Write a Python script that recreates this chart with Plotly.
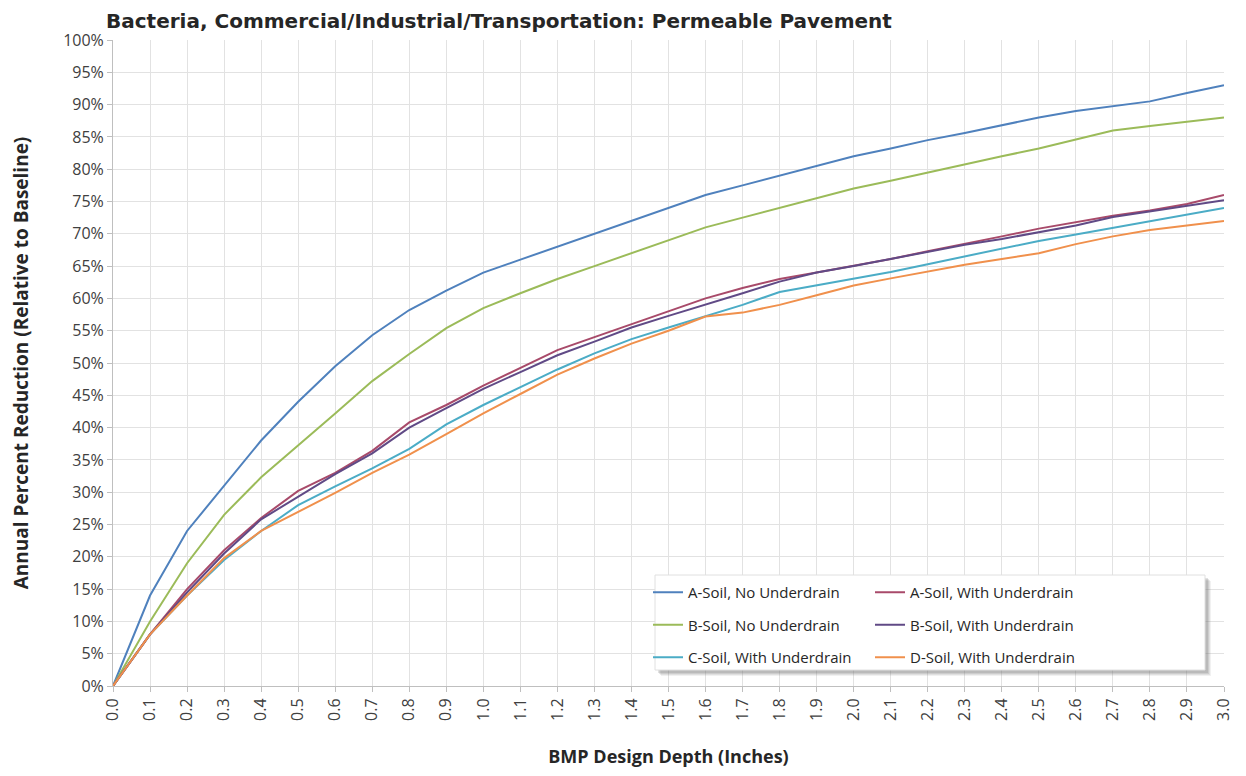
import plotly.graph_objects as go

# ---- data ----
DEPTH = [0.0, 0.1, 0.2, 0.3, 0.4, 0.5, 0.6, 0.7, 0.8, 0.9, 1.0,
         1.1, 1.2, 1.3, 1.4, 1.5, 1.6, 1.7, 1.8, 1.9, 2.0,
         2.1, 2.2, 2.3, 2.4, 2.5, 2.6, 2.7, 2.8, 2.9, 3.0]

A_NO = [0, 14, 24, 31, 38, 44, 49.5, 54.3, 58.2, 61.2, 64,
        66, 68, 70, 72, 74, 76, 77.5, 79, 80.5, 82,
        83.2, 84.5, 85.6, 86.8, 88, 89, 89.7, 90.5, 91.8, 93]
B_NO = [0, 10, 19, 26.5, 32.3, 37.2, 42.2, 47.2, 51.4, 55.4, 58.5,
        60.8, 63, 65, 67, 69, 71, 72.5, 74, 75.5, 77,
        78.2, 79.5, 80.7, 82, 83.2, 84.6, 86, 86.7, 87.3, 88]
A_WITH = [0, 8, 15, 21, 26, 30.2, 33, 36.4, 40.8, 43.5, 46.5,
          49.3, 52, 54, 56, 58, 60, 61.6, 63, 64, 65,
          66.1, 67.3, 68.4, 69.6, 70.8, 71.8, 72.8, 73.6, 74.6, 76]
B_WITH = [0, 8, 14.5, 20.5, 25.8, 29.3, 32.8, 36, 40, 43, 46,
          48.6, 51.2, 53.3, 55.5, 57.3, 59, 60.8, 62.6, 64, 65,
          66.1, 67.3, 68.3, 69.2, 70.2, 71.3, 72.6, 73.5, 74.3, 75.2]
C_WITH = [0, 8, 14, 19.5, 24, 28, 30.9, 33.7, 36.7, 40.5, 43.5,
          46.3, 49, 51.5, 53.7, 55.5, 57.3, 59, 61, 62, 63,
          64.1, 65.3, 66.5, 67.8, 68.9, 69.9, 70.9, 72, 73, 74]
D_WITH = [0, 8, 14, 19.8, 24, 26.9, 29.9, 33, 35.8, 39, 42.2,
          45.2, 48.2, 50.7, 53, 55, 57.2, 57.8, 59, 60.5, 62,
          63.1, 64.2, 65.2, 66.1, 67, 68.4, 69.6, 70.6, 71.3, 72]

SERIES = [
    ("A-Soil, No Underdrain", A_NO, "#4F81BD", "legend"),
    ("B-Soil, No Underdrain", B_NO, "#9BBB59", "legend"),
    ("C-Soil, With Underdrain", C_WITH, "#4BACC6", "legend"),
    ("A-Soil, With Underdrain", A_WITH, "#A84A6A", "legend2"),
    ("B-Soil, With Underdrain", B_WITH, "#604A86", "legend2"),
    ("D-Soil, With Underdrain", D_WITH, "#F0904C", "legend2"),
]

TITLE = "Bacteria, Commercial/Industrial/Transportation: Permeable Pavement"
X_TITLE = "BMP Design Depth (Inches)"
Y_TITLE = "Annual Percent Reduction (Relative to Baseline)"

FONT = "Open Sans"

fig = go.Figure()
for name, vals, color, lg in SERIES:
    fig.add_trace(go.Scatter(
        x=DEPTH, y=[v / 100 for v in vals], name=name, mode="lines",
        line=dict(color=color, width=2), legend=lg, legendgroup=name,
    ))

# page body has an 8px margin; work in screenshot pixels and convert
OFF = 8
W, H = 1230, 760
L, T = 113 - OFF, 40 - OFF
R = W - (1224 - OFF)
B = H - (686 - OFF)
pw, ph = W - L - R, H - T - B

def px2x(px):
    return (px - OFF - L) / pw

def py2y(py):
    return (H - B - (py - OFF)) / ph

shapes = []
for k, op in [(6, 0.10), (5, 0.14), (4, 0.18), (3, 0.22)]:
    shapes.append(dict(type="rect", xref="paper", yref="paper",
                       x0=px2x(655 + k), x1=px2x(1205 + k),
                       y0=py2y(670 + k), y1=py2y(575 + k),
                       fillcolor=f"rgba(120,120,120,{op})", line=dict(width=0),
                       layer="above"))
shapes.append(dict(type="rect", xref="paper", yref="paper",
                   x0=px2x(655), x1=px2x(1205), y0=py2y(670), y1=py2y(575),
                   fillcolor="white", line=dict(color="#E0E0E0", width=1),
                   layer="above"))

legend_common = dict(
    font=dict(family=FONT, size=15, color="#262626"),
    bgcolor="rgba(0,0,0,0)", borderwidth=0, tracegroupgap=10,
    yanchor="top", xanchor="left", itemwidth=30,
)

fig.update_layout(
    width=W, height=H,
    margin=dict(l=L, r=R, t=T, b=B, autoexpand=False),
    paper_bgcolor="white", plot_bgcolor="white",
    font=dict(family=FONT, size=15, color="#404040"),
    title=dict(text=f"<b>{TITLE}</b>", x=(106 - OFF) / W, xanchor="left", xref="container",
               y=1 - (21 - OFF) / H, yanchor="middle",
               font=dict(family="DejaVu Sans", size=20, color="#262626")),
    showlegend=True,
    legend=dict(x=px2x(648), y=py2y(576), **legend_common),
    legend2=dict(x=px2x(870), y=py2y(576), **legend_common),
    shapes=shapes,
    xaxis=dict(
        range=[0, 3], tickmode="array", tickvals=DEPTH,
        ticktext=[f"{d:.1f}" for d in DEPTH], tickangle=-90,
        showgrid=True, gridcolor="#E2E2E2", gridwidth=1,
        showline=True, linecolor="#BFBFBF", linewidth=1,
        ticks="outside", ticklen=5, tickcolor="#BFBFBF",
        tickfont=dict(family=FONT, size=16, color="#404040"),
        zeroline=False,
        title=dict(text=f"<b>{X_TITLE}</b>", standoff=35,
                   font=dict(family=FONT, size=18, color="#262626")),
    ),
    yaxis=dict(
        range=[0, 1], dtick=0.05, tick0=0, tickformat=".0%",
        showgrid=True, gridcolor="#E2E2E2", gridwidth=1,
        showline=True, linecolor="#BFBFBF", linewidth=1,
        ticks="outside", ticklen=5, tickcolor="#BFBFBF",
        tickfont=dict(family=FONT, size=16, color="#404040"),
        zeroline=False,
        title=dict(text=f"<b>{Y_TITLE}</b>", standoff=35,
                   font=dict(family=FONT, size=19, color="#262626")),
    ),
)

fig.write_html("out.html")
